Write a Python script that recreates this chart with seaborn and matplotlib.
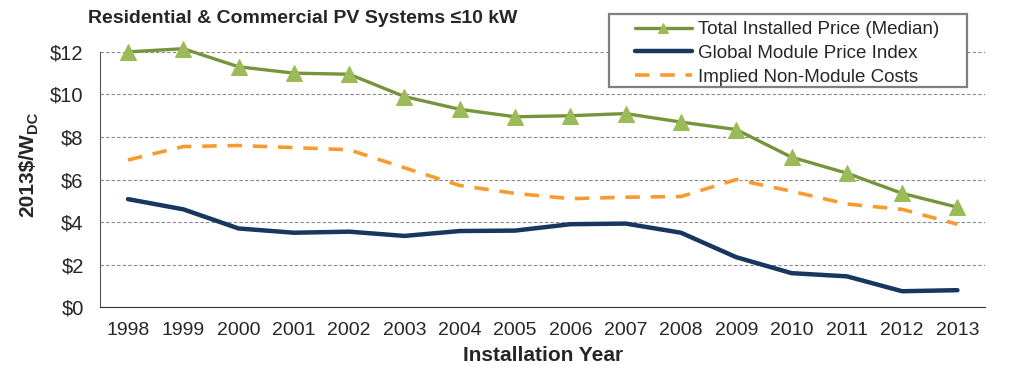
import numpy as np
import pandas as pd
import matplotlib
matplotlib.use('Agg')
import matplotlib.pyplot as plt
from matplotlib.patches import Rectangle
import seaborn as sns

years = ['1998', '1999', '2000', '2001', '2002', '2003', '2004', '2005',
         '2006', '2007', '2008', '2009', '2010', '2011', '2012', '2013']
total_price = [12.0, 12.15, 11.3, 11.0, 10.95, 9.9, 9.3, 8.95,
               9.0, 9.1, 8.7, 8.35, 7.05, 6.3, 5.35, 4.7]
module_price = [5.08, 4.6, 3.7, 3.5, 3.55, 3.35, 3.58, 3.6,
                3.9, 3.93, 3.5, 2.35, 1.6, 1.45, 0.75, 0.8]
non_module = [6.92, 7.55, 7.6, 7.5, 7.4, 6.55, 5.72, 5.35,
              5.1, 5.17, 5.2, 6.0, 5.45, 4.85, 4.6, 3.9]

_df = pd.DataFrame({'year': years, 'total': total_price,
                    'module': module_price, 'nonmodule': non_module})
_df['pos'] = np.arange(len(years))

sns.set_style('white')
plt.rcParams['font.family'] = ['Liberation Sans', 'DejaVu Sans']

fig = plt.figure(figsize=(10.24, 3.76), dpi=100)
ax = fig.add_axes([0.098, 0.183, 0.864, 0.679])

sns.lineplot(data=_df, x='pos', y='total', ax=ax, color='#77933C', lw=2.4,
             marker='^', markersize=11, markerfacecolor='#9BBB59',
             markeredgecolor='#9BBB59', label='Total Installed Price (Median)',
             clip_on=False, zorder=4)
sns.lineplot(data=_df, x='pos', y='module', ax=ax, color='#17375E', lw=3.2,
             label='Global Module Price Index', zorder=3)
sns.lineplot(data=_df, x='pos', y='nonmodule', ax=ax, color='#F79B2E', lw=2.6,
             dashes=(4, 3), label='Implied Non-Module Costs', zorder=3)

ax.set_xlim(-0.5, len(years) - 0.5)
ax.set_ylim(0, 12)
ax.set_yticks(np.arange(0, 13, 2))
ax.set_yticklabels(['$%d' % v for v in range(0, 13, 2)], fontsize=14.5)
ax.set_xticks(np.arange(-0.5, len(years), 1))
ax.set_xticklabels([])
ax.set_xticks(_df['pos'], minor=True)
ax.set_xticklabels(years, minor=True, fontsize=14)
ax.tick_params(axis='x', which='major', direction='out', length=6, width=1, color='#555555')
ax.tick_params(axis='x', which='minor', length=0, pad=11)
ax.tick_params(axis='y', direction='out', length=7, width=1, color='#555555', pad=5)

ax.yaxis.grid(True, linestyle=(0, (3, 2)), color='#888888', lw=0.8)
ax.set_axisbelow(True)
for s in ['top', 'right']:
    ax.spines[s].set_visible(False)
ax.spines['left'].set_color('#555555')
ax.spines['bottom'].set_color('#333333')

ax.set_xlabel('Installation Year', fontsize=15, fontweight='bold', labelpad=5)
ax.set_ylabel('')

fig.text(0.086, 0.952, 'Residential & Commercial PV Systems ≤10 kW',
         fontsize=14, fontweight='bold', va='center', ha='left')

# legend without its own frame; box drawn separately to get the wide padding
leg = ax.legend(loc='upper left', bbox_to_anchor=(0.620, 0.944),
                bbox_transform=fig.transFigure, fontsize=13.5,
                handlelength=3.05, frameon=False, markerscale=0.7,
                borderpad=0, labelspacing=0.35, handletextpad=0.3,
                borderaxespad=0)
leg.set_zorder(6)
ax.add_patch(Rectangle((609 / 1024, 1 - 87 / 376), 358 / 1024, 73 / 376,
                       transform=fig.transFigure, facecolor='white',
                       edgecolor='#7F7F7F', lw=1.6, zorder=5, clip_on=False))

# y label with subscript, built from two texts
ylab = fig.text(0.027, 1 - 217 / 376, '2013$/W', rotation=90, fontsize=15,
                fontweight='bold', ha='center', va='bottom')
fig.canvas.draw()
bb = ylab.get_window_extent().transformed(fig.transFigure.inverted())
fig.text(0.027 + 0.005, bb.y1, 'DC', rotation=90, fontsize=10.5,
         fontweight='bold', ha='center', va='bottom')

fig.savefig('out.png', dpi=100)
